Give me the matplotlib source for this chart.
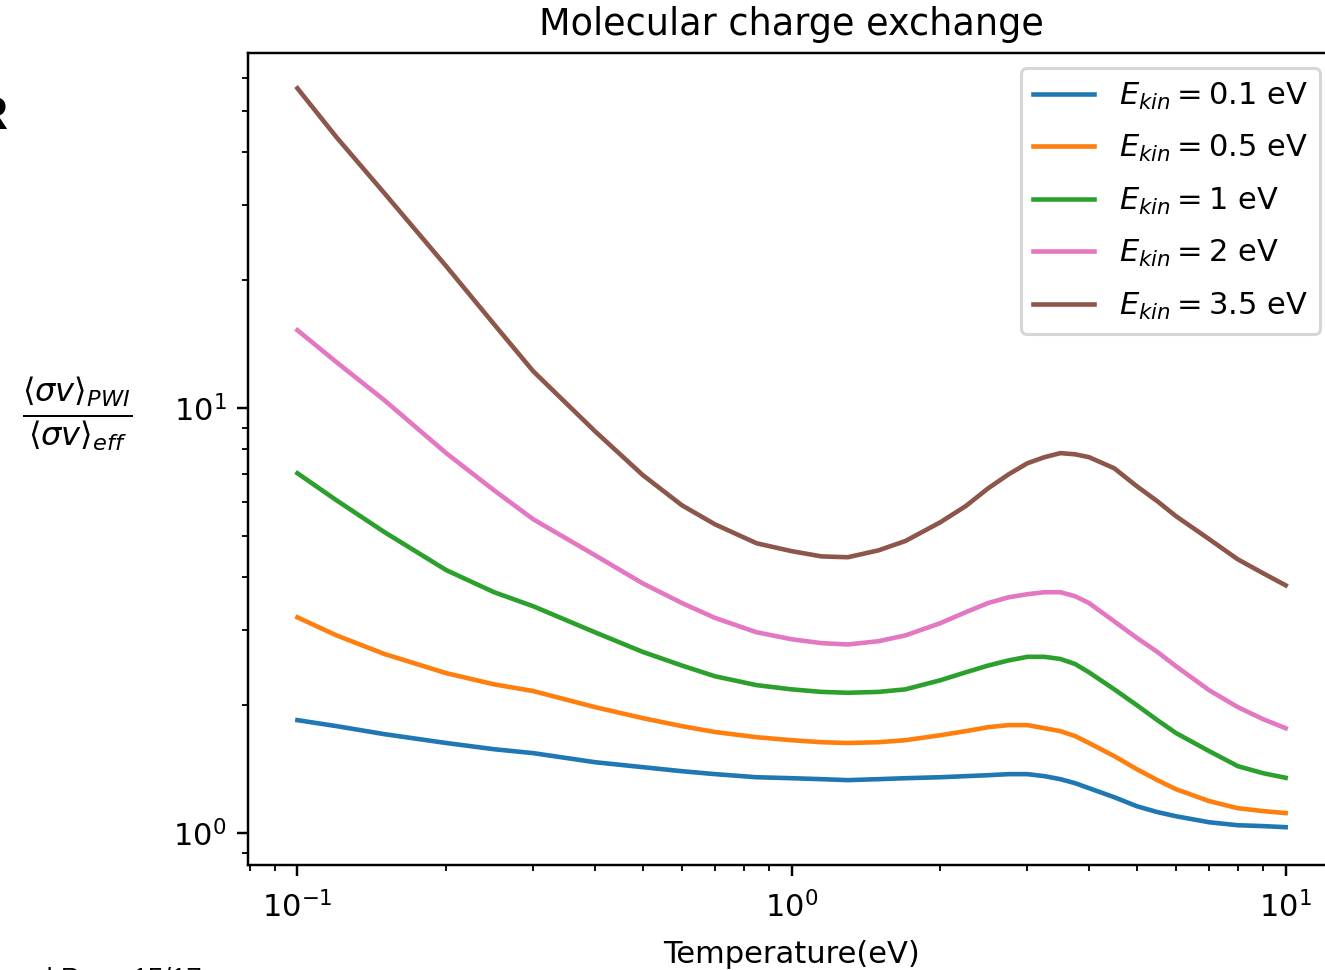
import matplotlib

matplotlib.use("Agg")
import matplotlib.pyplot as plt
import numpy as np

# Temperature grid (eV) and ratio values
temperature = [0.1, 0.12, 0.15, 0.2, 0.25, 0.3, 0.4, 0.5, 0.6, 0.7, 0.85, 1.0, 1.15, 1.3, 1.5, 1.7,
               2.0, 2.25, 2.5, 2.75, 3.0, 3.25, 3.5, 3.75, 4.0, 4.5, 5.0, 5.5, 6.0, 7.0, 8.0, 9.0, 10.0]

ratio_e01 = [1.845, 1.786, 1.710, 1.63, 1.576, 1.543, 1.469, 1.43, 1.399, 1.377, 1.354, 1.347, 1.34, 1.333,
             1.34, 1.347, 1.354, 1.362, 1.369, 1.377, 1.377, 1.362, 1.34, 1.311, 1.276, 1.215, 1.157, 1.121,
             1.096, 1.061, 1.044, 1.039, 1.033]
ratio_e05 = [3.22, 2.92, 2.64, 2.38, 2.24, 2.16, 1.98, 1.865, 1.786, 1.73, 1.682, 1.655, 1.637, 1.63,
             1.637, 1.655, 1.70, 1.738, 1.776, 1.796, 1.796, 1.766, 1.738, 1.692, 1.63, 1.518, 1.414, 1.333,
             1.269, 1.19, 1.145, 1.127, 1.115]
ratio_e1 = [7.03, 6.07, 5.11, 4.16, 3.69, 3.42, 2.97, 2.67, 2.48, 2.34, 2.23, 2.18, 2.15, 2.14,
            2.15, 2.18, 2.29, 2.39, 2.48, 2.55, 2.60, 2.60, 2.57, 2.50, 2.39, 2.18, 2.00, 1.845,
            1.72, 1.56, 1.438, 1.384, 1.35]
ratio_e2 = [15.26, 12.83, 10.44, 7.84, 6.41, 5.48, 4.51, 3.87, 3.48, 3.21, 2.97, 2.86, 2.80, 2.78,
            2.83, 2.92, 3.12, 3.31, 3.48, 3.59, 3.65, 3.69, 3.69, 3.61, 3.48, 3.15, 2.88, 2.67,
            2.47, 2.17, 1.98, 1.855, 1.766]
ratio_e35 = [56.6, 43.4, 32.05, 21.59, 15.76, 12.22, 8.83, 6.96, 5.91, 5.33, 4.81, 4.61, 4.48, 4.46,
             4.63, 4.87, 5.39, 5.88, 6.48, 6.99, 7.42, 7.67, 7.84, 7.79, 7.67, 7.22, 6.55, 6.04,
             5.57, 4.92, 4.41, 4.09, 3.83]

labels = ["0.1", "0.5", "1", "2", "3.5"]
series = [ratio_e01, ratio_e05, ratio_e1, ratio_e2, ratio_e35]
colors = ["tab:blue", "tab:orange", "tab:green", "tab:pink", "tab:brown"]

DPI = 220


def main() -> None:
    fig = plt.figure(figsize=(1325 / DPI, 970 / DPI), dpi=DPI)
    # the screenshot cuts the right edge of the axes off
    ax = fig.add_axes([0.1872, 0.1082, 0.8204, 0.8372])

    t = np.array(temperature)
    for label, values, color in zip(labels, series, colors):
        ax.plot(t, values, color=color, label=rf"$E_{{kin}} = {label}$ eV")

    ax.set_xscale("log")
    ax.set_yscale("log")
    ax.set_xlim(10 ** -1.1, 10 ** 1.1)
    ax.set_ylim(10 ** -0.075, 10 ** 1.836)
    ax.tick_params(axis="x", which="major", pad=5)

    ax.set_title("Molecular charge exchange")
    ax.set_xlabel("Temperature(eV)", labelpad=5.5)
    ax.set_ylabel(r"$\frac{\langle \sigma v \rangle_{PWI}}{\langle \sigma v \rangle_{eff}}$",
                  rotation=0, ha="center", va="center", fontsize=15)
    ax.yaxis.set_label_coords(-0.157, 0.555)
    ax.legend(loc="upper right", labelspacing=0.7)

    # leftovers of the slide around the figure
    fig.text(-0.0196, 0.879, "R", fontsize=15.5, fontweight="bold",
             family="Liberation Sans", ha="left", va="center")
    fig.text(0.035, 0.003, "| Page 15/17", fontsize=9,
             family="Liberation Sans", ha="left", va="top")

    fig.savefig("out.png", dpi=DPI)
    plt.close(fig)


if __name__ == "__main__":
    main()
